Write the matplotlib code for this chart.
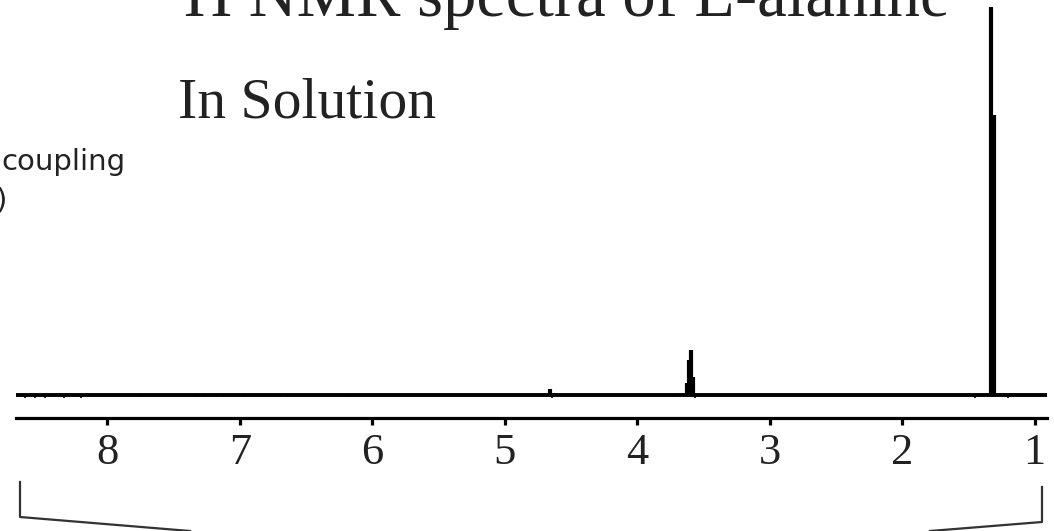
import numpy as np
import matplotlib.pyplot as plt

# chemical shift axis (ppm), reversed as usual for NMR
ppm_left = 8.69
ppm_right = 0.906
ppm_ticks = [8, 7, 6, 5, 4, 3, 2, 1]

# resonances of L-alanine in D2O (ppm, height in px above baseline)
peak_ppm = [1.330, 1.305, 3.625, 3.610, 3.595, 3.580, 4.660]
peak_height = [388, 280, 12, 35, 45, 18, 6]

# small baseline dips (noise) below the baseline
dip_ppm = [8.62, 8.55, 8.47, 8.33, 8.20, 7.75, 7.34, 7.26, 7.17, 6.96,
           6.91, 6.85, 6.79, 6.69, 6.19, 4.64, 3.72, 3.56, 1.45, 1.20]
dip_depth = [3, 3, 3, 3, 3, 2, 2, 2, 2, 2,
             2, 2, 2, 2, 2, 3, 2, 3, 3, 3]

W, H = 1054, 531
fig = plt.figure(figsize=(W / 100, H / 100), dpi=100)


def fx(x):
    return x / W


def fy(y):
    return 1 - y / H


# axes: bottom spine is the ppm scale
ax = fig.add_axes([fx(16), fy(418), fx(1047) - fx(16), fy(0) - fy(418)])
ax.set_xlim(ppm_left, ppm_right)
ax.set_ylim(-23, 395)

# baseline and peaks
ax.plot([ppm_left, ppm_right], [0, 0], color='black', lw=2.8,
        solid_capstyle='butt')
ax.vlines(peak_ppm, 0, peak_height, color='black', lw=3.0)
ax.vlines(dip_ppm, 0, [-d for d in dip_depth], color='black', lw=1.2)

for side in ['top', 'left', 'right']:
    ax.spines[side].set_visible(False)
ax.spines['bottom'].set_linewidth(2.3)
ax.set_yticks([])
ax.set_xticks(ppm_ticks)
ax.set_xticklabels([str(t) for t in ppm_ticks])
ax.tick_params(axis='x', direction='out', length=5, width=2.3, pad=6,
               labelsize=32)
for lab in ax.get_xticklabels():
    lab.set_fontfamily('Liberation Serif')
    lab.set_color('#222222')
ax.patch.set_alpha(0)

# slide texts
fig.text(fx(183), fy(-22), '1', family='Liberation Serif', fontsize=30,
         color='#222222', ha='right', va='baseline')
fig.text(fx(184), fy(16), 'H NMR spectra of L-alanine',
         family='Liberation Serif', fontsize=48, color='#222222',
         ha='left', va='baseline')
fig.text(fx(178), fy(117), 'In Solution',
         family='Liberation Serif', fontsize=41.5, color='#222222',
         ha='left', va='baseline')
fig.text(fx(1), fy(170), 'coupling', family='DejaVu Sans', fontsize=21,
         color='#222222', ha='left', va='baseline')
fig.text(fx(7), fy(208), ')', family='DejaVu Sans', fontsize=21,
         color='#222222', ha='right', va='baseline')

# bracket under the scale
fig.add_artist(plt.Line2D([fx(20), fx(20), fx(190)],
                          [fy(482), fy(517), fy(531)],
                          color='#333333', lw=1.6))
fig.add_artist(plt.Line2D([fx(1042), fx(1042), fx(930)],
                          [fy(487), fy(522), fy(531)],
                          color='#333333', lw=1.6))

fig.savefig('out.png', dpi=100)
